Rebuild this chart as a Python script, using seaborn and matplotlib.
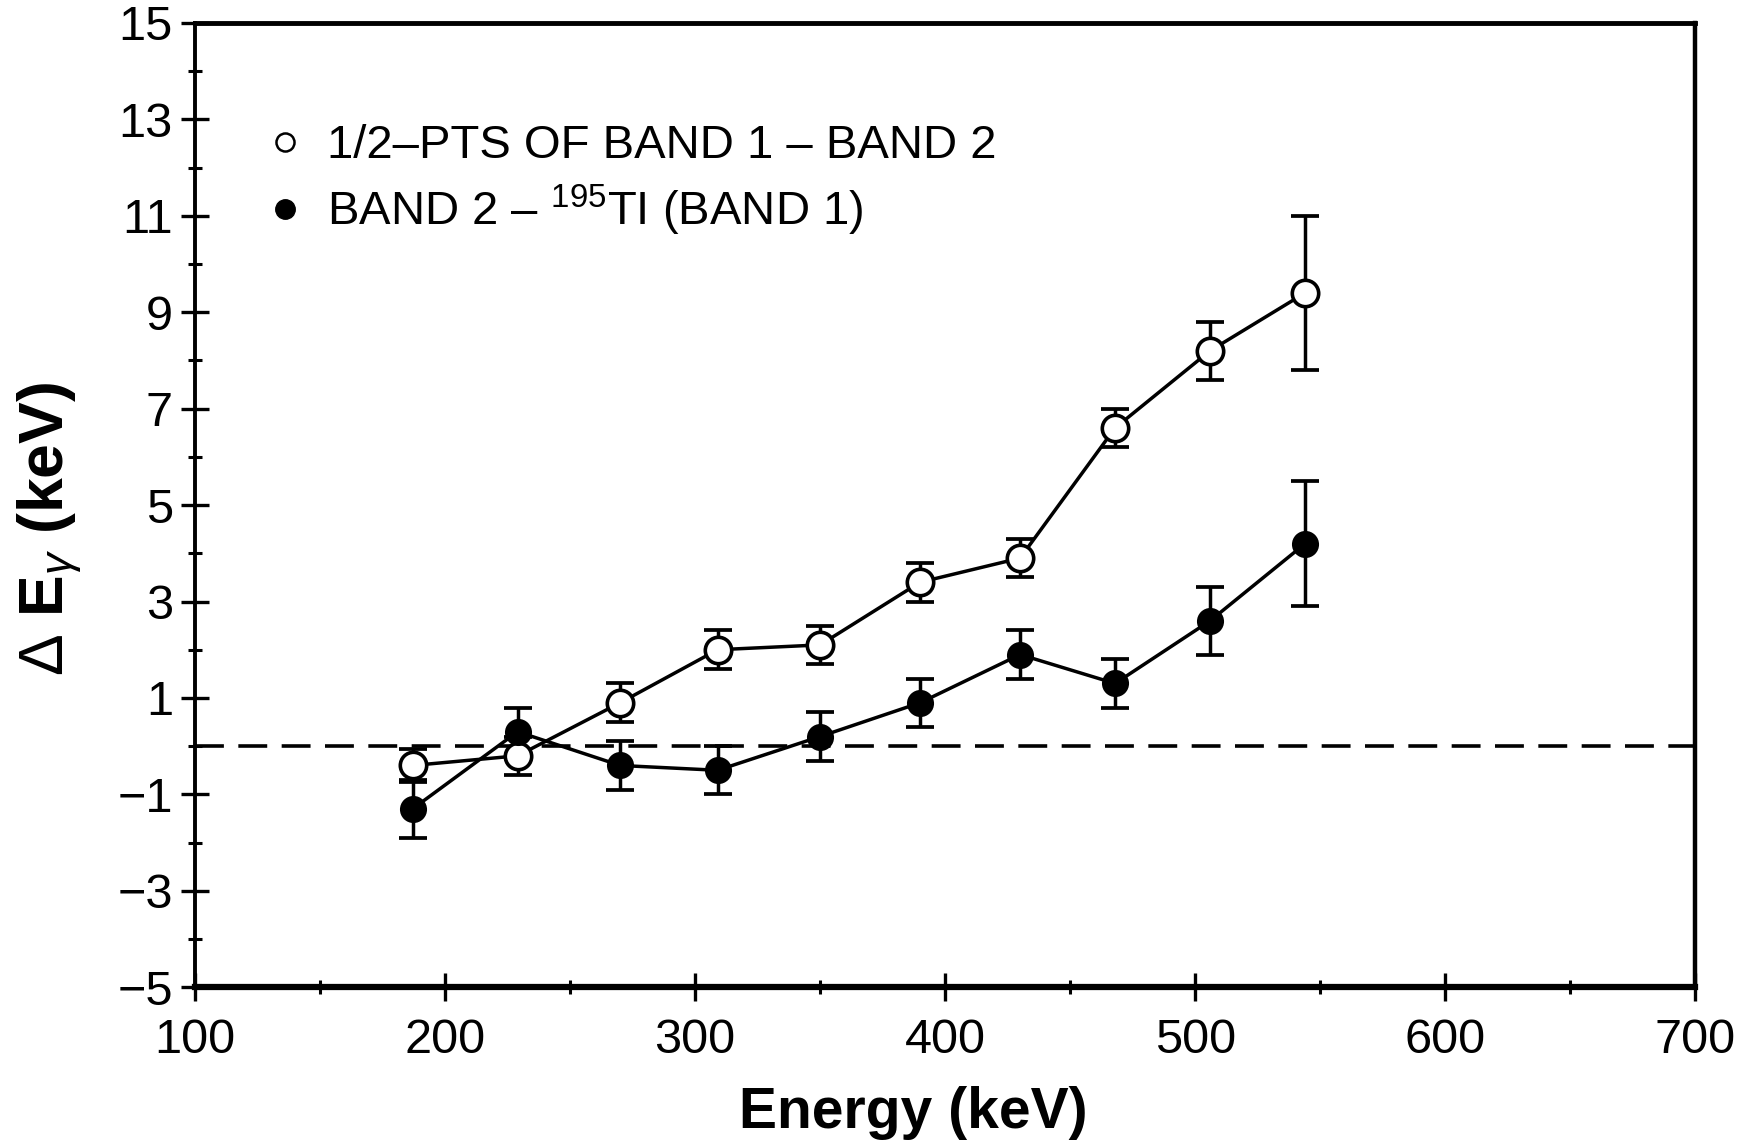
import numpy as np
import pandas as pd
import matplotlib
matplotlib.use("Agg")
import matplotlib.pyplot as plt
from matplotlib.lines import Line2D
from matplotlib.ticker import MultipleLocator
import seaborn as sns

# ---- data ----
energy = [187, 229, 270, 309, 350, 390, 430, 468, 506, 544]
open_y = [-0.4, -0.2, 0.9, 2.0, 2.1, 3.4, 3.9, 6.6, 8.2, 9.4]
open_err = [0.35, 0.4, 0.4, 0.4, 0.4, 0.4, 0.4, 0.4, 0.6, 1.6]
filled_y = [-1.3, 0.3, -0.4, -0.5, 0.2, 0.9, 1.9, 1.3, 2.6, 4.2]
filled_err = [0.6, 0.5, 0.5, 0.5, 0.5, 0.5, 0.5, 0.5, 0.7, 1.3]
label_open = "1/2–PTS OF BAND 1 – BAND 2"
label_filled = "BAND 2 – $^{195}$TI (BAND 1)"
x_ticks = [100, 200, 300, 400, 500, 600, 700]
y_ticks = [-5, -3, -1, 1, 3, 5, 7, 9, 11, 13, 15]

sns.set_theme(style="ticks")
plt.rcParams['font.family'] = ['Liberation Sans', 'DejaVu Sans']
plt.rcParams['mathtext.fontset'] = 'custom'
plt.rcParams['mathtext.rm'] = 'Liberation Sans'
plt.rcParams['mathtext.it'] = 'Liberation Sans:italic'
plt.rcParams['mathtext.bf'] = 'Liberation Sans:bold'
plt.rcParams['text.color'] = 'black'
plt.rcParams['axes.labelcolor'] = 'black'

df_open = pd.DataFrame({"E": energy, "dE": open_y, "err": open_err})
df_filled = pd.DataFrame({"E": energy, "dE": filled_y, "err": filled_err})

fig = plt.figure(figsize=(17.58, 11.44), dpi=100)
ax = fig.add_axes([0.1110, 0.137, 0.8532, 0.843])

# zero reference line
ax.axhline(0, color="black", lw=2.6, ls=(0, (8, 4)), zorder=1)

# error bars
for d in (df_open, df_filled):
    ax.errorbar(d["E"], d["dE"], yerr=d["err"], fmt="none", ecolor="black",
                elinewidth=2.5, capsize=10, capthick=2.7, zorder=2)

sns.lineplot(data=df_open, x="E", y="dE", ax=ax, color="black", lw=2.5,
             marker="o", markersize=19, markerfacecolor="white",
             markeredgecolor="black", markeredgewidth=2.6, zorder=3)
sns.lineplot(data=df_filled, x="E", y="dE", ax=ax, color="black", lw=2.5,
             marker="o", markersize=18, markerfacecolor="black",
             markeredgecolor="black", markeredgewidth=1.5, zorder=4)

ax.set_xlim(100, 700)
ax.set_ylim(-5, 15)
ax.set_xticks(x_ticks)
ax.set_yticks(y_ticks)
ax.xaxis.set_minor_locator(MultipleLocator(50))
ax.yaxis.set_minor_locator(MultipleLocator(1))
ax.tick_params(which="major", direction="inout", length=20, width=2.4,
               labelsize=35, colors="black")
ax.tick_params(axis="x", which="major", pad=12)
ax.tick_params(axis="y", which="major", pad=6)
ax.tick_params(which="minor", direction="inout", length=10, width=2.2,
               colors="black")
ax.tick_params(top=False, right=False, which="both")

for side, lw in (("left", 2.8), ("bottom", 4.5), ("top", 3.5), ("right", 3.2)):
    ax.spines[side].set_visible(True)
    ax.spines[side].set_linewidth(lw)
    ax.spines[side].set_color("black")

ax.set_xlabel("Energy (keV)", fontsize=41, fontweight="bold", color="black")
ax.xaxis.set_label_coords(0.479, -0.102)
ax.set_ylabel(r"$\Delta$ E$_{\gamma}$ (keV)", fontsize=45, fontweight="bold",
              color="black")
ax.yaxis.set_label_coords(-0.074, 0.475)

handles = [
    Line2D([], [], ls="none", marker="o", markersize=13, markerfacecolor="white",
           markeredgecolor="black", markeredgewidth=1.8),
    Line2D([], [], ls="none", marker="o", markersize=14, markerfacecolor="black",
           markeredgecolor="black"),
]
ax.legend(handles, [label_open, label_filled], loc="upper left",
          bbox_to_anchor=(0.044, 0.895), frameon=False, fontsize=34,
          handlelength=1.0, handletextpad=0.4, labelspacing=0.32,
          borderaxespad=0, borderpad=0)

ax.grid(False)
fig.savefig("out.png", dpi=100, facecolor="white")
